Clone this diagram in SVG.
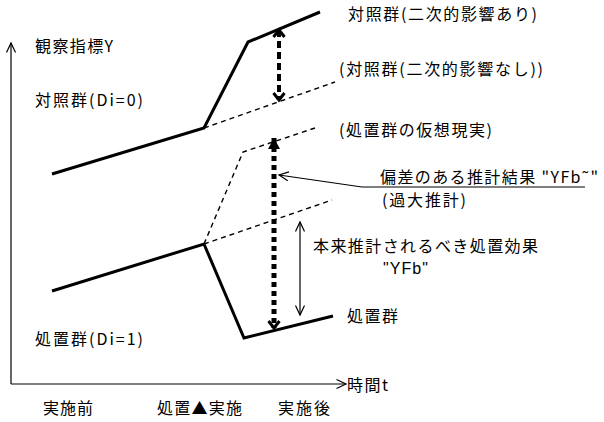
<svg xmlns="http://www.w3.org/2000/svg" width="604" height="422" viewBox="0 0 604 422">
<style>
text{font-family:"Noto Sans CJK JP","Noto Sans",sans-serif;font-size:16px;fill:#000}
.lat{font-family:"Liberation Sans",Arial,sans-serif}
.thick{fill:none;stroke:#000;stroke-width:3;stroke-linejoin:miter}
.dash{fill:none;stroke:#000;stroke-width:1.4;stroke-dasharray:5 4}
.thin{fill:none;stroke:#000;stroke-width:1.2}
</style>
<defs>
<marker id="open" viewBox="0 0 10 10" refX="9.5" refY="5" markerWidth="10" markerHeight="10" markerUnits="userSpaceOnUse" orient="auto-start-reverse" style="overflow:visible">
<path d="M0,0.5 L9.5,5 L0,9.5" fill="none" stroke="#000" stroke-width="1.2"/>
</marker>
<marker id="chev" viewBox="0 0 8 12" refX="7" refY="6" markerWidth="8" markerHeight="12" markerUnits="userSpaceOnUse" orient="auto-start-reverse" style="overflow:visible">
<path d="M0,0.5 L7,6 L0,11.5" fill="none" stroke="#000" stroke-width="3"/>
</marker>
<marker id="tri" viewBox="0 0 11 12" refX="11" refY="6" markerWidth="11" markerHeight="12" markerUnits="userSpaceOnUse" orient="auto-start-reverse" style="overflow:visible">
<path d="M0,0 L11,6 L0,12 Z" fill="#000"/>
</marker>
</defs>
<rect width="604" height="422" fill="#fff"/>
<g id="axes">
<path class="thin" d="M11,384 L11,43" stroke-width="1.4" marker-end="url(#open)"/>
<path class="thin" d="M11,384 L346,384" stroke-width="1.4" marker-end="url(#open)"/>
</g>
<g id="control-group">
<path class="thick" d="M52,174 L204,128 L248,42 L320,12"/>
</g>
<g id="control-counterfactual">
<path class="dash" d="M204,128 L335,82"/>
</g>
<g id="treatment-group">
<path class="thick" d="M52,291 L204,244 L244,338 L333,316" stroke-width="3.4"/>
</g>
<g id="treatment-counterfactual">
<path class="dash" d="M204,244 L332,200"/>
</g>
<g id="treatment-virtual">
<path class="dash" d="M204,244 L243,152 L315,128"/>
</g>
<g id="connectors">
<path d="M279,30 L279,100" fill="none" stroke="#000" stroke-width="4" stroke-dasharray="7 4" marker-start="url(#chev)" marker-end="url(#chev)"/>
<path d="M274,138 L274,328" fill="none" stroke="#000" stroke-width="5" stroke-dasharray="5 4" marker-start="url(#tri)" marker-end="url(#chev)"/>
<path class="thin" d="M300,222 L300,315" marker-start="url(#open)" marker-end="url(#open)"/>
<path class="thin" d="M362,187 L279,175" marker-end="url(#open)"/>
<path class="thin" d="M362,187 L585,187"/>
</g>
<g id="labels">
<text x="35" y="52" textLength="78">観察指標Y</text>
<text x="35" y="106" textLength="108">対照群(Di=0)</text>
<text x="348" y="20" textLength="189">対照群(二次的影響あり)</text>
<text x="339" y="75" textLength="204">(対照群(二次的影響なし))</text>
<text x="339" y="136" textLength="153">(処置群の仮想現実)</text>
<text x="380" y="183" textLength="218">偏差のある推計結果 "YFb˜"</text>
<text x="382" y="206" textLength="84">(過大推計)</text>
<text x="313" y="252" textLength="225">本来推計されるべき処置効果</text>
<text class="lat" x="383" y="274" textLength="45">"YFb"</text>
<text x="347" y="322" textLength="51">処置群</text>
<text x="35" y="345" textLength="108">処置群(Di=1)</text>
<text x="347" y="391" textLength="41">時間t</text>
<text x="43" y="414" textLength="50">実施前</text>
<text x="157" y="414" textLength="85">処置▲実施</text>
<text x="278" y="414" textLength="52">実施後</text>
</g>
</svg>
